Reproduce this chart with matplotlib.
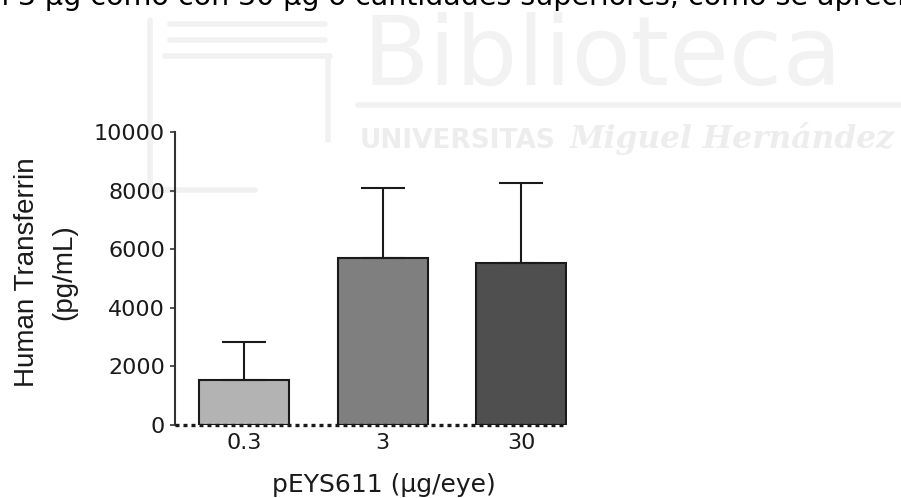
import matplotlib
matplotlib.use("Agg")
import matplotlib.pyplot as plt
from matplotlib.lines import Line2D

categories = ["0.3", "3", "30"]
means = [1540, 5700, 5520]
sd_upper = [1300, 2400, 2730]
bar_colors = ["#b3b3b3", "#7f7f7f", "#4f4f4f"]
yticks = [0, 2000, 4000, 6000, 8000, 10000]

plt.rcParams['font.family'] = ['DejaVu Sans']

W, H = 901, 498
fig = plt.figure(figsize=(W / 100, H / 100), dpi=100)

def px(x, y):
    return x / W, 1 - y / H

# ---- faint watermark (library logo) ----
wm = "#f1f1f1"
for (x0, y0, x1, y1) in [(170, 24, 325, 24), (170, 40, 325, 40), (165, 56, 330, 56),
                         (328, 56, 328, 140), (150, 20, 150, 190), (150, 190, 255, 190),
                         (358, 105, 901, 105)]:
    a, b = px(x0, y0)
    c, d = px(x1, y1)
    fig.add_artist(Line2D([a, c], [b, d], color=wm, lw=4, solid_capstyle="round", zorder=0))

fig.text(*px(362, 85), "Biblioteca", fontsize=70, color="#f2f2f2", ha="left",
         va="baseline", family="DejaVu Sans", zorder=0)
fig.text(*px(360, 148), "UNIVERSITAS", fontsize=19, color="#ededed", ha="left",
         va="baseline", fontweight="bold", family="DejaVu Sans", zorder=0)
fig.text(*px(570, 148), "Miguel Hernández", fontsize=22.5, color="#ededed", ha="left",
         va="baseline", style="italic", fontweight="bold", family="DejaVu Serif", zorder=0)

# ---- cut-off body text at top ----
fig.text(*px(-9, 5), "n 3 µg como con 30 µg o cantidades superiores, como se aprecia",
         fontsize=20.5, color="black", ha="left", va="baseline", family="DejaVu Sans")

# ---- chart ----
ax = fig.add_axes([175 / W, 1 - 425 / H, (567 - 175) / W, (425 - 132) / H])
ax.patch.set_alpha(0)
x = range(len(categories))
ax.bar(x, means, width=0.65, color=bar_colors, edgecolor="#1a1a1a", linewidth=1.5, zorder=2)
ax.errorbar(x, means, yerr=[[0] * len(means), sd_upper], fmt="none", ecolor="#1a1a1a",
            elinewidth=1.5, capsize=16, capthick=1.5, zorder=3)

ax.axhline(0, color="#1a1a1a", linestyle=(0, (1.2, 1.2)), linewidth=2.4, zorder=4, clip_on=False)

ax.set_xlim(-0.5, 2.33)
ax.set_ylim(0, 10000)
ax.set_yticks(yticks)
ax.set_yticklabels([str(v) for v in yticks], fontsize=16, color="#1a1a1a")
ax.set_xticks(list(x))
ax.set_xticklabels(categories, fontsize=16, color="#1a1a1a")
ax.tick_params(axis="x", length=0, pad=6)
ax.tick_params(axis="y", length=3.6, width=1.2, color="#333333", pad=3.5)

for s in ["top", "right", "bottom"]:
    ax.spines[s].set_visible(False)
ax.spines["left"].set_linewidth(1.5)
ax.spines["left"].set_color("#333333")

ax.set_xlabel("pEYS611 (µg/eye)", fontsize=18, color="#1a1a1a", va="top")
ax.xaxis.set_label_coords(0.533, -0.163)
ax.set_ylabel("Human Transferrin\n(pg/mL)", fontsize=20, family="Liberation Sans",
              color="#1a1a1a", linespacing=1.55, va="center", ha="center")
ax.yaxis.set_label_coords(-0.33, 0.522)

fig.savefig("out.png", dpi=100)
